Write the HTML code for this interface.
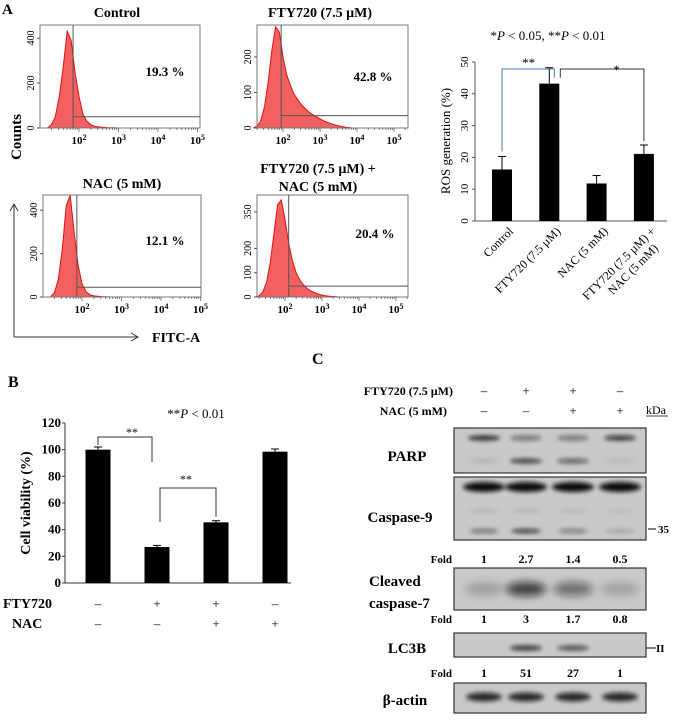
<!DOCTYPE html>
<html><head><meta charset="utf-8"><style>
html,body{margin:0;padding:0;background:#fff}
svg{display:block}
text{font-family:"Liberation Serif",serif}
.b{font-weight:bold}
</style></head><body>
<svg id="fig" width="675" height="720" viewBox="0 0 675 720" xmlns="http://www.w3.org/2000/svg">
<defs>
<filter id="blur" x="-50%" y="-200%" width="200%" height="500%"><feGaussianBlur stdDeviation="2.2"/></filter>
<filter id="blur2" x="-50%" y="-200%" width="200%" height="500%"><feGaussianBlur stdDeviation="4"/></filter>
</defs>
<g id="panelA">
<text x="2" y="14" class="b" font-size="15">A</text>
<text transform="translate(21,137) rotate(-90)" text-anchor="middle" class="b" font-size="15">Counts</text>
<line x1="14" y1="337" x2="14" y2="205" stroke="#333" stroke-width="1"/>
<polyline points="10,211 14,204 18,211" fill="none" stroke="#333"/>
<line x1="14" y1="337" x2="137" y2="337" stroke="#333" stroke-width="1"/>
<polyline points="131,333 138,337 131,341" fill="none" stroke="#333"/>
<text x="152" y="342" class="b" font-size="14">FITC-A</text>
</g>
<g id="flows"></g>
<g id="ros"></g>
<g id="viab"></g>
<g id="blots"></g>
</svg>
<script>
const NS="http://www.w3.org/2000/svg";
function mk(parent,tag,attrs,txt){const e=document.createElementNS(NS,tag);for(const k in attrs)e.setAttribute(k,attrs[k]);if(txt!==undefined)e.textContent=txt;parent.appendChild(e);return e;}

/* ---------- Panel A flow histograms data ---------- */
const histLogStart=1.2, histLogStep=0.1;
const histControl=[0,15,50,140,270,430,390,250,140,60,30,14,8,5,3,2,1,1,0];
const histFTY=[0,5,20,60,130,220,285,270,200,150,120,95,80,65,55,45,38,32,26,20,16,12,9,6,4,2,1,0];
const histNAC=[0,20,80,220,420,470,300,150,60,25,10,5,3,2,1,0];
const histFTYNAC=[0,5,20,60,140,260,380,400,320,220,150,100,70,50,35,25,18,12,8,5,3,2,1,0];
const flowPercents=["19.3 %","42.8 %","12.1 %","20.4 %"];
const flowYTicks=[[0,200,400],[0,100,200],[0,200,400],[0,100,200,350]];
const flowGateLog=[1.85,1.95,1.87,2.1];
const flowGateCount=[50,35,45,45];

const plots=[
 {name:"control",title:["Control"],x0:40,x1:200,y0:25,y1:128,ymax:458,t2:79,dec:39.5,hist:histControl,tx:117,ty:[17],px:165,py:76},
 {name:"fty720",title:["FTY720 (7.5 µM)"],x0:257,x1:408,y0:25,y1:128,ymax:290,t2:283,dec:37,hist:histFTY,tx:320,ty:[17],px:373,py:81},
 {name:"nac",title:["NAC (5 mM)"],x0:43,x1:201,y0:195,y1:297,ymax:470,t2:82,dec:39.5,hist:histNAC,tx:122,ty:[188],px:165,py:245},
 {name:"fty720-nac",title:["FTY720 (7.5 µM) +","NAC (5 mM)"],x0:257,x1:408,y0:195,y1:297,ymax:420,t2:285,dec:37,hist:histFTYNAC,tx:318,ty:[173,191],px:375,py:238}
];
const flows=document.getElementById('flows');
plots.forEach((p,i)=>{
 const g=mk(flows,'g',{});
 
 
 const xs=l=>p.t2+(l-2)*p.dec;
 const ys=v=>p.y1-v*(p.y1-p.y0)/p.ymax;
 p.title.forEach((t,k)=>{const e=mk(g,'text',{x:p.tx,y:p.ty[k],'text-anchor':'middle','class':'b','font-size':14},t);
  });
 let d='M'+xs(histLogStart)+','+p.y1;
 p.hist.forEach((v,k)=>{d+=' L'+xs(histLogStart+k*histLogStep).toFixed(1)+','+ys(v).toFixed(1);});
 d+=' L'+xs(histLogStart+(p.hist.length-1)*histLogStep).toFixed(1)+','+p.y1+' Z';
 const h=mk(g,'path',{d:d,fill:'#f26060',stroke:'#e01010','stroke-width':1});
 
 mk(g,'rect',{x:p.x0,y:p.y0,width:p.x1-p.x0,height:p.y1-p.y0,fill:'none',stroke:'#777','stroke-width':1});
 const gx=xs(flowGateLog[i]);
 mk(g,'line',{x1:gx,y1:p.y0,x2:gx,y2:p.y1,stroke:'#555','stroke-width':1});
 mk(g,'line',{x1:gx,y1:ys(flowGateCount[i]),x2:p.x1,y2:ys(flowGateCount[i]),stroke:'#555','stroke-width':1});
 const pt=mk(g,'text',{x:p.px,y:p.py,'text-anchor':'middle','class':'b','font-size':13},flowPercents[i]);
 
 flowYTicks[i].forEach(v=>{const y=ys(v);mk(g,'line',{x1:p.x0-3,y1:y,x2:p.x0,y2:y,stroke:'#555'});
  mk(g,'text',{transform:`translate(${p.x0-6},${y}) rotate(-90)`,'text-anchor':'middle','font-size':10},v);});
 for(let l=1;l<=5;l++){for(let m=1;m<10;m++){const x=xs(l+Math.log10(m));if(x<p.x0||x>p.x1)continue;
  mk(g,'line',{x1:x,y1:p.y1,x2:x,y2:p.y1+(m==1?4:2),stroke:'#555','stroke-width':0.7});}}
 [2,3,4,5].forEach(l=>{const t=mk(g,'text',{x:xs(l),y:p.y1+16,'text-anchor':'middle','class':'b','font-size':11},'10');
  mk(t,'tspan',{dy:-4,'font-size':8},String(l));});
});

/* ---------- ROS chart ---------- */
const rosCategories=[["Control"],["FTY720 (7.5 µM)"],["NAC (5 mM)"],["FTY720 (7.5 µM) +","NAC (5 mM)"]];
const rosValues=[16.2,43.2,11.8,21.1];
const rosErrors=[4.1,5.0,2.5,2.8];
const rosTicks=[0,10,20,30,40,50];
(function(){
 const g=document.getElementById('ros');
 
 const ax=475,ay0=221,ay1=62,ymax=50;
 const ys=v=>ay0-v*(ay0-ay1)/ymax;
 const xc=i=>502+i*47.3;
 const t=mk(g,'text',{x:548,y:40,'text-anchor':'middle','font-size':13},'');
 
 t.innerHTML='*<tspan font-style="italic">P</tspan> &lt; 0.05, **<tspan font-style="italic">P</tspan> &lt; 0.01';
 const yl=mk(g,'text',{transform:'translate(450,141) rotate(-90)','text-anchor':'middle','font-size':13},'ROS generation (%)');
 
 mk(g,'line',{x1:ax,y1:ys(0),x2:ax,y2:ys(ymax),stroke:'#555'});
 mk(g,'line',{x1:ax,y1:ay0,x2:667,y2:ay0,stroke:'#555'});
 rosTicks.forEach(v=>{mk(g,'line',{x1:ax-3,y1:ys(v),x2:ax,y2:ys(v),stroke:'#555'});
  mk(g,'text',{transform:`translate(${ax-7},${ys(v)}) rotate(-90)`,'text-anchor':'middle','font-size':11},v);});
 rosValues.forEach((v,i)=>{
  const r=mk(g,'rect',{x:xc(i)-10,y:ys(v),width:20,height:ay0-ys(v),fill:'#000'});
  
  const e=ys(v+rosErrors[i]);
  mk(g,'line',{x1:xc(i),y1:ys(v),x2:xc(i),y2:e,stroke:'#000'});
  mk(g,'line',{x1:xc(i)-4,y1:e,x2:xc(i)+4,y2:e,stroke:'#000'});
  const lines=rosCategories[i];
  lines.forEach((s,k)=>{const lb=mk(g,'text',{transform:`translate(${xc(i)+12+k*3},${232+k*17}) rotate(-45)`,'text-anchor':'end','font-size':12},s);
   });
 });
 const by=ys(50)+7;
 mk(g,'polyline',{points:`${xc(0)},${ys(rosValues[0]+rosErrors[0])-5} ${xc(0)},${by} ${xc(1)+5},${by} ${xc(1)+5},${ys(rosValues[1])-6}`,fill:'none',stroke:'#4a78c0'});
 mk(g,'text',{x:(xc(0)+xc(1))/2+3,y:by-2,'text-anchor':'middle','font-size':13},'**');
 mk(g,'polyline',{points:`${xc(1)+11},${ys(rosValues[1])-6} ${xc(1)+11},${by} ${xc(3)},${by} ${xc(3)},${ys(rosValues[3]+rosErrors[3])-4}`,fill:'none',stroke:'#333'});
 mk(g,'text',{x:(xc(1)+xc(3))/2+20,y:by+5,'text-anchor':'middle','font-size':13},'*');
})();

/* ---------- Panel B viability ---------- */
const viabValues=[100,27,45.5,98.5];
const viabErrors=[2,1.2,1.2,2];
const viabTicks=[0,20,40,60,80,100,120];
const viabFTY=["–","+","+","–"];
const viabNAC=["–","–","+","+"];
(function(){
 const g=document.getElementById('viab');
 
 mk(g,'text',{x:8,y:387,'class':'b','font-size':16},'B');
 const ax=65,ay0=583,ay1=423,ymax=120;
 const ys=v=>ay0-v*(ay0-ay1)/ymax;
 const xc=i=>98+i*59;
 const t=mk(g,'text',{x:196,y:418,'text-anchor':'middle','font-size':13},'');
 t.innerHTML='**<tspan font-style="italic">P</tspan> &lt; 0.01';
 
 const yl=mk(g,'text',{transform:'translate(30,503) rotate(-90)','text-anchor':'middle','class':'b','font-size':14},'Cell viability (%)');
 
 mk(g,'line',{x1:ax,y1:ay0,x2:ax,y2:ay1,stroke:'#333'});
 mk(g,'line',{x1:ax,y1:ay0,x2:291,y2:ay0,stroke:'#333'});
 viabTicks.forEach(v=>{mk(g,'line',{x1:ax-3,y1:ys(v),x2:ax,y2:ys(v),stroke:'#333'});
  mk(g,'text',{x:ax-4,y:ys(v)+4,'text-anchor':'end','class':'b','font-size':13},v);});
 viabValues.forEach((v,i)=>{
  const r=mk(g,'rect',{x:xc(i)-12.5,y:ys(v),width:25,height:ay0-ys(v),fill:'#000'});
  
  const e=ys(v+viabErrors[i]);
  mk(g,'line',{x1:xc(i),y1:ys(v),x2:xc(i),y2:e,stroke:'#000'});
  mk(g,'line',{x1:xc(i)-4,y1:e,x2:xc(i)+4,y2:e,stroke:'#000'});
  mk(g,'text',{x:xc(i),y:608,'text-anchor':'middle','font-size':13},viabFTY[i]);
  mk(g,'text',{x:xc(i),y:628,'text-anchor':'middle','font-size':13},viabNAC[i]);
 });
 mk(g,'text',{x:3,y:608,'class':'b','font-size':14},'FTY720');
 mk(g,'text',{x:12,y:628,'class':'b','font-size':14},'NAC');
 mk(g,'polyline',{points:`${xc(0)},${ys(viabValues[0]+viabErrors[0])-2} ${xc(0)},437 ${xc(1)-5},437 ${xc(1)-5},462`,fill:'none',stroke:'#333'});
 mk(g,'text',{x:132,y:436,'text-anchor':'middle','font-size':12},'**');
 mk(g,'polyline',{points:`${xc(1)+3},522 ${xc(1)+3},488 ${xc(2)},488 ${xc(2)},${ys(viabValues[2]+viabErrors[2])-4}`,fill:'none',stroke:'#333'});
 mk(g,'text',{x:186,y:483,'text-anchor':'middle','font-size':12},'**');
})();

/* ---------- Panel C blots ---------- */
const laneFTY=["–","+","+","–"];
const laneNAC=["–","–","+","+"];
const foldCasp9=["1","2.7","1.4","0.5"];
const foldCasp7=["1","3","1.7","0.8"];
const foldLC3B=["1","51","27","1"];
(function(){
 const g=document.getElementById('blots');
 
 mk(g,'text',{x:312,y:364,'class':'b','font-size':16},'C');
 const lx=[484,526,573,620];
 mk(g,'text',{x:453,y:395,'text-anchor':'end','class':'b','font-size':12},'FTY720 (7.5 µM)');
 mk(g,'text',{x:447,y:415,'text-anchor':'end','class':'b','font-size':12},'NAC (5 mM)');
 lx.forEach((x,i)=>{mk(g,'text',{x:x,y:395,'text-anchor':'middle','font-size':13},laneFTY[i]);
  mk(g,'text',{x:x,y:415,'text-anchor':'middle','font-size':13},laneNAC[i]);});
 mk(g,'text',{x:646,y:414,'font-size':12},'kDa');
 mk(g,'line',{x1:646,y1:416,x2:668,y2:416,stroke:'#000','stroke-width':0.8});
 function box(name,y0,y1){const b=mk(g,'rect',{x:454,y:y0,width:192,height:y1-y0,fill:'#c9c9c9',stroke:'#333','stroke-width':1.2});
  }
 function band(x,y,w,h,op,f){mk(g,'ellipse',{cx:x,cy:y,rx:w,ry:h,fill:'#111','fill-opacity':op,filter:f||'url(#blur)'});}
 box('parp',428,473);
 [.9,.5,.5,.85].forEach((o,i)=>band(lx[i],438,16,2.5,o));
 [.1,.75,.6,.08].forEach((o,i)=>band(lx[i],461,16,2.5,o));
 box('caspase-9',477,540);
 lx.forEach(x=>band(x,487,21,5,1));
 [.15,.15,.12,.1].forEach((o,i)=>band(lx[i],511,14,1.5,o));
 [.5,.8,.45,.2].forEach((o,i)=>band(lx[i],531,15,2,o));
 box('cleaved-caspase-7',568,610);
 [.2,.75,.5,.18].forEach((o,i)=>band(lx[i],589,20,7,o,'url(#blur2)'));
 box('lc3b',633,657);
 [0,.85,.7,0].forEach((o,i)=>band(lx[i],648,16,2.5,o));
 box('beta-actin',683,713);
 lx.forEach(x=>band(x,697,18,4.5,.85));
 const lab=(t,x,y,anchor)=>{const e=mk(g,'text',{x:x,y:y,'text-anchor':anchor||'middle','class':'b','font-size':15},t);
  };
 lab('PARP',407,461);lab('Caspase-9',400,522);
 lab('Cleaved',369,586,'start');lab('caspase-7',369,608,'start');
 lab('LC3B',407,653);lab('β-actin',405,705);
 mk(g,'line',{x1:648,y1:529,x2:656,y2:529,stroke:'#000'});
 mk(g,'text',{x:658,y:533,'class':'b','font-size':11},'35');
 mk(g,'line',{x1:646,y1:648,x2:656,y2:648,stroke:'#000'});
 mk(g,'text',{x:656,y:652,'class':'b','font-size':11},'II');
 [[foldCasp9,563],[foldCasp7,623],[foldLC3B,677]].forEach(([arr,y])=>{
  mk(g,'text',{x:452,y:y,'text-anchor':'end','class':'b','font-size':11},'Fold');
  arr.forEach((v,i)=>{const e=mk(g,'text',{x:lx[i],y:y,'text-anchor':'middle','class':'b','font-size':12},v);
   });
 });
})();
</script>
</body></html>
